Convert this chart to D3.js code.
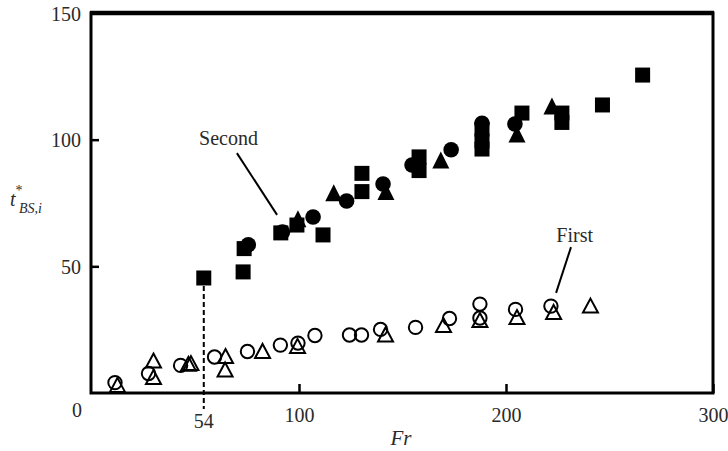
<!DOCTYPE html>
<html>
<head>
<meta charset="utf-8">
<script src="https://cdn.jsdelivr.net/npm/d3@7"></script>
<style>
  html, body { margin: 0; padding: 0; background: #fff; }
  svg { display: block; }
  text { font-family: "Liberation Serif", "DejaVu Serif", serif; fill: #2a2a2a; }
</style>
</head>
<body>
<svg id="chart" width="728" height="451"></svg>
<script>
// Breakup time t*_BS,i against Froude number Fr.
// "First" breakup: open markers; "Second" breakup: filled markers.

const xTicks = [100, 200, 300];
const yTicks = [50, 100, 150];
const markedFr = 54;

// First breakup (open symbols)
const firstCircles = [
  [11.1, 4.1], [27.3, 7.7], [42.8, 10.9], [59.2, 14.2], [75.1, 16.4],
  [91.0, 18.9], [99.5, 19.7], [107.7, 22.7], [124.4, 22.9], [130.2, 22.9],
  [139.4, 25.1], [156.3, 25.9], [172.7, 29.4], [187.4, 35.1], [187.4, 29.6],
  [204.6, 33.0], [221.7, 34.3]
];
const firstTriangles = [
  [12.3, 3.2], [29.7, 12.8], [29.7, 6.3], [46.6, 11.5], [47.8, 11.8],
  [64.5, 14.6], [64.3, 9.3], [82.4, 16.6], [99.3, 18.6], [141.8, 23.1],
  [169.8, 26.8], [187.4, 28.8], [205.3, 30.0], [223.0, 32.0], [240.8, 34.5]
];

// Second breakup (filled symbols)
const secondSquares = [
  [54, 45.4], [73, 47.8], [73.5, 57.0], [91.2, 63.2], [99, 66.3], [111.6, 62.4],
  [130.4, 86.7], [130.4, 79.5], [158, 93.2], [158, 87.8],
  [188.4, 104.2], [188.4, 99.5], [188.4, 96.3], [207.7, 110.5],
  [227, 110.5], [227, 106.8], [246.6, 113.7], [266, 125.5]
];
const secondCircles = [
  [75.5, 58.5], [92, 63.5], [106.8, 69.5], [123, 75.8], [140.6, 82.5],
  [154.6, 90], [173.5, 96], [188.4, 106.5], [204.3, 106.2]
];
const secondTriangles = [
  [99.5, 68.8], [116.8, 79], [142, 79.5], [168.5, 92], [205.3, 102.2], [222.2, 113.3]
];

// Callout labels: text anchor and leader line ends, in data units
const callouts = [
  { text: "Second", at: [51.7, 97.7], from: [70, 94.7], to: [89.4, 70.3] },
  { text: "First",  at: [224.3, 59.6], from: [231.4, 57.6], to: [224.2, 39.5] }
];

const svg = d3.select("#chart");
const x = d3.scaleLinear().domain([0, 300]).range([92, 713]);
const y = d3.scaleLinear().domain([0, 150]).range([393, 13]);

// Axes with inward ticks
const yAxis = svg.append("g")
  .attr("transform", `translate(${x(0) - 1},0)`)
  .call(d3.axisLeft(y).tickValues(yTicks).tickSize(-8).tickPadding(10));
const xAxis = svg.append("g")
  .attr("transform", `translate(0,${y(0)})`)
  .call(d3.axisBottom(x).tickValues(xTicks).tickSize(-9).tickPadding(15));

[yAxis, xAxis].forEach(g => {
  g.select(".domain").remove();
  g.attr("font-family", null).attr("font-size", null);
  g.selectAll(".tick line").attr("stroke", "#000").attr("stroke-width", 2.5);
  g.selectAll(".tick text")
    .style("font-family", '"Liberation Serif", serif')
    .style("font-size", "20px").attr("fill", "#2a2a2a");
});
yAxis.selectAll(".tick text").attr("dy", "0.36em");

// Origin label
svg.append("text").attr("x", x(0) - 10).attr("y", 417)
  .attr("text-anchor", "end").style("font-size", "20px").text("0");

// Marked Fr = 54 with dashed drop line from the first second-breakup point
const firstSecond = secondSquares[0];
svg.append("line")
  .attr("x1", x(markedFr)).attr("x2", x(markedFr))
  .attr("y1", y(firstSecond[1])).attr("y2", 409)
  .attr("stroke", "#000").attr("stroke-width", 2)
  .attr("stroke-dasharray", "5,3");
svg.append("text").attr("x", x(markedFr)).attr("y", 428)
  .attr("text-anchor", "middle").style("font-size", "20px").text(markedFr);

// Frame
svg.append("rect")
  .attr("x", x(0) - 1).attr("y", y(150))
  .attr("width", x(300) - x(0) + 1).attr("height", y(0) - y(150))
  .attr("fill", "none").attr("stroke", "#000").attr("stroke-width", 3);
svg.append("line")
  .attr("x1", x(0) - 2).attr("x2", x(300) + 1)
  .attr("y1", y(150)).attr("y2", y(150))
  .attr("stroke", "#000").attr("stroke-width", 4.5);

// Marker shapes
function triPath(cx, cy, w, h) {
  return `M${cx},${cy - h / 2}L${cx + w / 2},${cy + h / 2}L${cx - w / 2},${cy + h / 2}Z`;
}

const marks = svg.append("g");

// Open markers
marks.selectAll(".fc").data(firstCircles).join("circle")
  .attr("cx", d => x(d[0])).attr("cy", d => y(d[1])).attr("r", 6.7)
  .attr("fill", "none").attr("stroke", "#000").attr("stroke-width", 2);
marks.selectAll(".ft").data(firstTriangles).join("path")
  .attr("d", d => triPath(x(d[0]), y(d[1]), 15, 14))
  .attr("fill", "none").attr("stroke", "#000").attr("stroke-width", 2)
  .attr("stroke-linejoin", "miter");

// Filled markers
marks.selectAll(".ss").data(secondSquares).join("rect")
  .attr("x", d => x(d[0]) - 7.5).attr("y", d => y(d[1]) - 7.5)
  .attr("width", 15).attr("height", 15).attr("fill", "#000");
marks.selectAll(".sc").data(secondCircles).join("circle")
  .attr("cx", d => x(d[0])).attr("cy", d => y(d[1])).attr("r", 7.8)
  .attr("fill", "#000");
marks.selectAll(".st").data(secondTriangles).join("path")
  .attr("d", d => triPath(x(d[0]), y(d[1]), 17, 17))
  .attr("fill", "#000");

// Callouts
callouts.forEach(c => {
  svg.append("line")
    .attr("x1", x(c.from[0])).attr("y1", y(c.from[1]))
    .attr("x2", x(c.to[0])).attr("y2", y(c.to[1]))
    .attr("stroke", "#000").attr("stroke-width", 2);
  svg.append("text")
    .attr("x", x(c.at[0])).attr("y", y(c.at[1]))
    .style("font-size", "20px").text(c.text);
});

// Axis titles
svg.append("text").attr("x", 401).attr("y", 445)
  .attr("text-anchor", "middle")
  .style("font-size", "21px").style("font-style", "italic").text("Fr");

const yt = svg.append("g");
yt.append("text").attr("x", 10).attr("y", 206)
  .style("font-size", "20px").style("font-style", "italic").text("t");
yt.append("text").attr("x", 15.5).attr("y", 195)
  .style("font-size", "14px").text("*");
yt.append("text").attr("x", 19).attr("y", 213)
  .style("font-size", "14px").style("font-style", "italic").text("BS,i");
</script>
</body>
</html>
